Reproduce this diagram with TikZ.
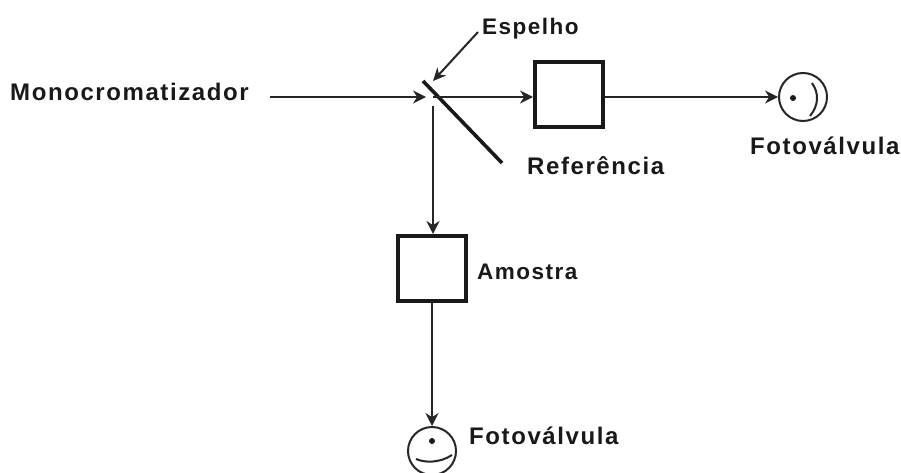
\documentclass[tikz,border=0pt]{standalone}
\usepackage{fontspec}
\setmainfont{Liberation Sans}[LetterSpace=6.6]
\usetikzlibrary{arrows.meta}
\tikzset{
  x=1pt,y=-1pt,
  label text/.style={inner sep=0pt,font=\bfseries\fontsize{24}{28}\selectfont,text=black!90},
  small text/.style={label text,font=\bfseries\fontsize{22.5}{28}\selectfont},
  sample/.style={draw=black!90,line width=4pt,minimum width=68pt,minimum height=65pt,inner sep=0pt},
  tube/.style={draw=black!85,line width=2pt,circle,minimum size=48pt,inner sep=0pt},
  ray/.style={draw=black!85,line width=2pt},
  rayhead/.style={ray,-{Stealth[length=13pt,width=13pt]}},
  mirrorline/.style={draw=black!90,line width=3.6pt},
  inner mark/.style={draw=black!85,line width=2pt}
}
\begin{document}
\begin{tikzpicture}
\useasboundingbox (0,0) rectangle (901,473);
% named points
\coordinate (in) at (270,97);
\coordinate (mirrorA) at (423,81);
\coordinate (mirrorB) at (502,163);
\coordinate (mhit) at (433,97);
\coordinate (mfrom) at (433,106);
\coordinate (leader) at (478,32);
\coordinate (mtop) at (433,81);
% boxes and tubes
\node[sample] (ref) at (569,95) {};
\node[sample] (amo) at (432,268.5) {};
\node[tube] (t1) at (803,97) {};
\node[tube] (t2) at (432,451) {};
% labels
\node[label text,anchor=west] (lmono) at (10,92) {Monocromatizador};
\node[small text,anchor=west] (lesp) at (482,29) {Espelho};
\node[label text,anchor=west] (lref) at (527,166) {Referência};
\node[small text,anchor=west] (lamo) at (477,272) {Amostra};
\node[label text,anchor=west] (lf1) at (750,146) {Fotoválvula};
\node[label text,anchor=west] (lf2) at (469,436) {Fotoválvula};
% mirror
\draw[mirrorline] (mirrorA) -- (mirrorB);
% connectors
\draw[rayhead] (in) -- (426,97);
\draw[rayhead] (mhit) -- (mhit -| ref.west);
\draw[rayhead] (ref.east |- t1.west) -- (t1.west);
\draw[rayhead] (mfrom) -- (amo.north -| mfrom);
\draw[rayhead] (amo.south) -- (t2.north);
\draw[ray,-{Stealth[length=13pt,width=12pt]}] (leader) -- (mtop);
% tube interiors
\fill[black!90] (793,98) circle (3);
\draw[inner mark] (812,83) .. controls (819,93) and (819,105) .. (810,116);
\fill[black!90] (432,441) circle (3);
\draw[inner mark] (416,459) .. controls (425,463) and (440,463) .. (452,455);
\end{tikzpicture}
\end{document}
